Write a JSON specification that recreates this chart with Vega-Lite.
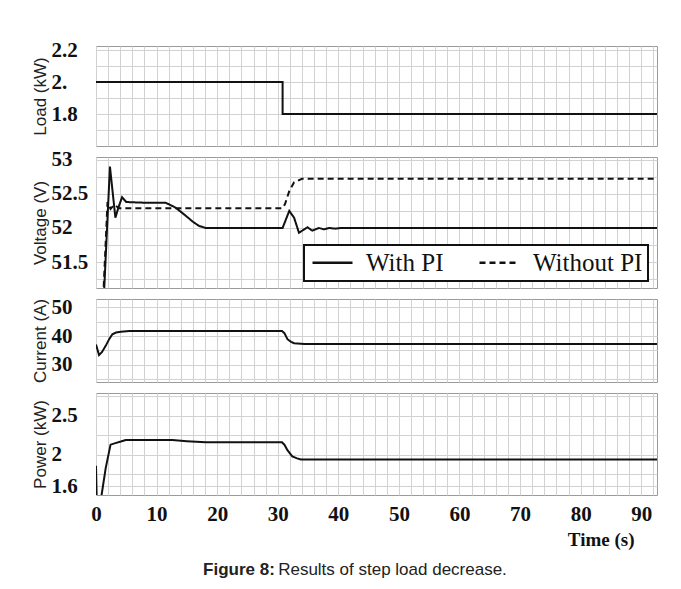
{
  "$schema": "https://vega.github.io/schema/vega-lite/v6.json",
  "background": "white",
  "padding": {"left": 30, "top": 38, "right": 5, "bottom": 5},
  "datasets": {
    "load": [
      {"t": 0, "v": 2.0}, {"t": 30.8, "v": 1.8}, {"t": 92.6, "v": 1.8}
    ],
    "voltage": [
      {"s": "With PI", "t": 0, "v": 40}, {"s": "With PI", "t": 1.3, "v": 51.0}, {"s": "With PI", "t": 2.3, "v": 52.9},
      {"s": "With PI", "t": 3.2, "v": 52.15}, {"s": "With PI", "t": 3.7, "v": 52.3}, {"s": "With PI", "t": 4.3, "v": 52.45},
      {"s": "With PI", "t": 5.0, "v": 52.38}, {"s": "With PI", "t": 8.0, "v": 52.37}, {"s": "With PI", "t": 11.5, "v": 52.37},
      {"s": "With PI", "t": 13.1, "v": 52.3}, {"s": "With PI", "t": 14.8, "v": 52.18}, {"s": "With PI", "t": 16.0, "v": 52.09},
      {"s": "With PI", "t": 17.0, "v": 52.03}, {"s": "With PI", "t": 18.1, "v": 52.0}, {"s": "With PI", "t": 30.8, "v": 52.0},
      {"s": "With PI", "t": 31.9, "v": 52.25}, {"s": "With PI", "t": 32.7, "v": 52.15}, {"s": "With PI", "t": 33.5, "v": 51.93},
      {"s": "With PI", "t": 34.9, "v": 52.01}, {"s": "With PI", "t": 35.7, "v": 51.96}, {"s": "With PI", "t": 36.8, "v": 52.0},
      {"s": "With PI", "t": 37.6, "v": 51.98}, {"s": "With PI", "t": 38.5, "v": 52.0}, {"s": "With PI", "t": 39.5, "v": 51.99},
      {"s": "With PI", "t": 40.5, "v": 52.0}, {"s": "With PI", "t": 92.6, "v": 52.0},
      {"s": "Without PI", "t": 0, "v": 40}, {"s": "Without PI", "t": 1.2, "v": 51.0}, {"s": "Without PI", "t": 1.9, "v": 52.38},
      {"s": "Without PI", "t": 2.4, "v": 52.28}, {"s": "Without PI", "t": 3.0, "v": 52.34}, {"s": "Without PI", "t": 3.8, "v": 52.29},
      {"s": "Without PI", "t": 30.8, "v": 52.29}, {"s": "Without PI", "t": 31.2, "v": 52.35}, {"s": "Without PI", "t": 31.9, "v": 52.54},
      {"s": "Without PI", "t": 32.7, "v": 52.67}, {"s": "Without PI", "t": 34.0, "v": 52.72}, {"s": "Without PI", "t": 92.6, "v": 52.72}
    ],
    "current": [
      {"t": 0, "v": 37.1}, {"t": 0.5, "v": 33.4}, {"t": 1.0, "v": 34.5}, {"t": 1.6, "v": 36.6}, {"t": 2.2, "v": 39.0},
      {"t": 2.7, "v": 40.6}, {"t": 3.3, "v": 41.2}, {"t": 4.1, "v": 41.5}, {"t": 5.5, "v": 41.7}, {"t": 30.7, "v": 41.7},
      {"t": 31.1, "v": 41.0}, {"t": 31.6, "v": 38.9}, {"t": 32.2, "v": 38.0}, {"t": 32.7, "v": 37.5}, {"t": 34.4, "v": 37.2},
      {"t": 92.6, "v": 37.2}
    ],
    "power": [
      {"t": 0, "v": 1.86}, {"t": 0.15, "v": 1.3}, {"t": 0.6, "v": 1.2}, {"t": 0.85, "v": 1.45}, {"t": 1.6, "v": 1.83},
      {"t": 2.4, "v": 2.13}, {"t": 3.2, "v": 2.15}, {"t": 4.1, "v": 2.17}, {"t": 4.9, "v": 2.19}, {"t": 12.6, "v": 2.19},
      {"t": 15.0, "v": 2.175}, {"t": 18.1, "v": 2.16}, {"t": 30.7, "v": 2.16}, {"t": 31.1, "v": 2.13}, {"t": 31.6, "v": 2.06},
      {"t": 32.4, "v": 1.98}, {"t": 33.2, "v": 1.955}, {"t": 33.8, "v": 1.94}, {"t": 92.6, "v": 1.94}
    ]
  },
  "title": {
    "text": "Figure 8:",
    "orient": "bottom",
    "anchor": "middle",
    "font": "Liberation Sans",
    "fontSize": 17,
    "fontWeight": "bold",
    "color": "#222",
    "dx": -105,
    "offset": -17
  },
  "bounds": "flush",
  "spacing": 11,
  "vconcat": [
    {
      "width": 561,
      "height": 100,
      "data": {"name": "load"},
      "mark": {"type": "line", "interpolate": "step-after", "color": "#111", "strokeWidth": 2, "clip": true},
      "encoding": {
        "x": {"field": "t", "type": "quantitative", "scale": {"domain": [0, 92.6], "nice": false, "zero": false},
          "axis": {"title": null, "labels": false, "values": [0,2,4,6,8,10,12,14,16,18,20,22,24,26,28,30,32,34,36,38,40,42,44,46,48,50,52,54,56,58,60,62,64,66,68,70,72,74,76,78,80,82,84,86,88,90,92]}},
        "y": {"field": "v", "type": "quantitative", "scale": {"domain": [1.6, 2.225], "nice": false, "zero": false},
          "axis": {"title": "Load (kW)", "values": [1.7, 1.8, 1.9, 2.0, 2.1, 2.2],
            "labelExpr": "abs(datum.value-2)<0.001 ? '2.' : (abs(datum.value-2.2)<0.001 || abs(datum.value-1.8)<0.001) ? format(datum.value,'.1f') : ''"}}
      }
    },
    {
      "width": 561,
      "height": 131,
      "data": {"name": "voltage"},
      "mark": {"type": "line", "color": "#111", "strokeWidth": 2, "clip": true},
      "encoding": {
        "x": {"field": "t", "type": "quantitative", "scale": {"domain": [0, 92.6], "nice": false, "zero": false},
          "axis": {"title": null, "labels": false, "values": [0,2,4,6,8,10,12,14,16,18,20,22,24,26,28,30,32,34,36,38,40,42,44,46,48,50,52,54,56,58,60,62,64,66,68,70,72,74,76,78,80,82,84,86,88,90,92]}},
        "y": {"field": "v", "type": "quantitative", "scale": {"domain": [51.12, 53.04], "nice": false, "zero": false},
          "axis": {"title": "Voltage (V)", "values": [51.25, 51.5, 51.75, 52, 52.25, 52.5, 52.75, 53],
            "labelExpr": "(datum.value*2) % 1 == 0 ? format(datum.value, '~g') : ''"}},
        "strokeDash": {"field": "s", "type": "nominal",
          "scale": {"domain": ["With PI", "Without PI"], "range": [[1, 0], [6, 4]]},
          "legend": {
            "title": null, "orient": "none", "legendX": 208, "legendY": 199, "direction": "horizontal",
            "labelFont": "Liberation Serif", "labelFontSize": 25, "labelColor": "#111", "labelLimit": 300,
            "symbolType": "M-2,0H2", "symbolSize": 400, "symbolStrokeWidth": 2.5, "symbolStrokeColor": "#111",
            "symbolOffset": 11, "labelOffset": 21, "columnPadding": 30, "padding": 5,
            "strokeColor": "#111", "fillColor": "white",
            "encode": {"legend": {"update": {"strokeWidth": {"value": 2}}}}
          }}
      }
    },
    {
      "width": 561,
      "height": 83,
      "data": {"name": "current"},
      "mark": {"type": "line", "color": "#111", "strokeWidth": 2, "clip": true},
      "encoding": {
        "x": {"field": "t", "type": "quantitative", "scale": {"domain": [0, 92.6], "nice": false, "zero": false},
          "axis": {"title": null, "labels": false, "values": [0,2,4,6,8,10,12,14,16,18,20,22,24,26,28,30,32,34,36,38,40,42,44,46,48,50,52,54,56,58,60,62,64,66,68,70,72,74,76,78,80,82,84,86,88,90,92]}},
        "y": {"field": "v", "type": "quantitative", "scale": {"domain": [24.1, 52.8], "nice": false, "zero": false},
          "axis": {"title": "Current (A)", "values": [25, 30, 35, 40, 45, 50],
            "labelExpr": "datum.value % 10 == 0 ? datum.label : ''"}}
      }
    },
    {
      "width": 561,
      "height": 102,
      "data": {"name": "power"},
      "title": {
        "text": "Results of step load decrease.",
        "orient": "bottom",
        "anchor": "middle",
        "frame": "group",
        "font": "Liberation Sans",
        "fontSize": 17,
        "fontWeight": "normal",
        "color": "#222",
        "dx": 16,
        "offset": 13
      },
      "mark": {"type": "line", "color": "#111", "strokeWidth": 2, "clip": true},
      "encoding": {
        "x": {"field": "t", "type": "quantitative", "scale": {"domain": [0, 92.6], "nice": false, "zero": false},
          "axis": {"title": "Time (s)", "values": [0,2,4,6,8,10,12,14,16,18,20,22,24,26,28,30,32,34,36,38,40,42,44,46,48,50,52,54,56,58,60,62,64,66,68,70,72,74,76,78,80,82,84,86,88,90,92],
            "labelExpr": "datum.value % 10 == 0 ? datum.label : ''",
            "labelPadding": 8, "labelBaseline": "top", "labelFlush": false,
            "titleFont": "Liberation Serif", "titleFontWeight": "bold", "titleFontSize": 19, "titleColor": "#111",
            "titleAnchor": "end", "titleAlign": "right", "titleX": 538, "titleY": 35, "titleBaseline": "top"}},
        "y": {"field": "v", "type": "quantitative", "scale": {"domain": [1.487, 2.79], "nice": false, "zero": false},
          "axis": {"title": "Power (kW)", "values": [1.6, 1.75, 2, 2.25, 2.5, 2.75],
            "labelExpr": "(abs(datum.value-1.6)<0.001 || datum.value == 2 || datum.value == 2.5) ? format(datum.value, '~g') : ''"}}
      }
    }
  ],
  "config": {
    "view": {"stroke": "#9a9a9a", "strokeWidth": 1},
    "axis": {
      "domain": false, "ticks": false, "tickSize": 0, "labelOverlap": false,
      "gridColor": "#d2d2d2", "gridWidth": 1,
      "labelFont": "Liberation Serif", "labelFontWeight": "bold", "labelFontSize": 21, "labelColor": "#111",
      "titleFont": "Liberation Sans", "titleFontWeight": "normal", "titleFontSize": 17, "titleColor": "#222"
    },
    "axisY": {"labelAlign": "left", "labelPadding": 45, "titlePadding": 2, "labelBaseline": "middle"}
  }
}
